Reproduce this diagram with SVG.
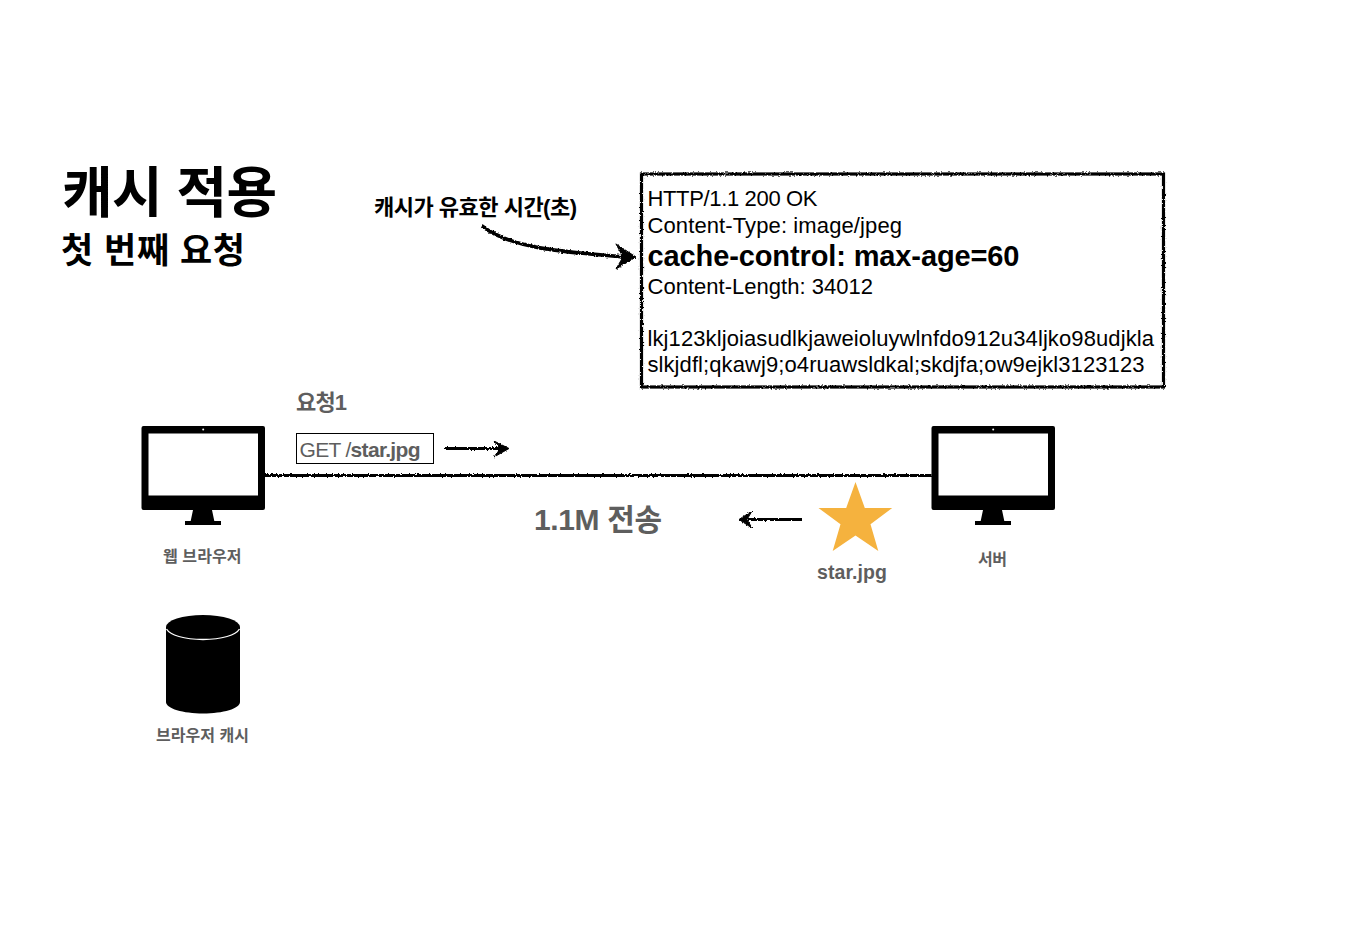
<svg xmlns="http://www.w3.org/2000/svg" width="1350" height="952" viewBox="0 0 1350 952">
<style>
text{font-family:"Liberation Sans","Noto Sans CJK KR",sans-serif;white-space:pre}
.k{fill:#000}
.g{fill:#5e5e5e}
.b{font-weight:700}
.h{font-size:22px}
.rough{fill:none;stroke:#000;filter:url(#rough)}
.head{fill:#000;stroke:#000;stroke-width:1;filter:url(#rough)}
</style>
<defs>
<filter id="rough" x="0" y="0" width="1350" height="952" filterUnits="userSpaceOnUse" primitiveUnits="userSpaceOnUse">
<feTurbulence type="fractalNoise" baseFrequency="0.55" numOctaves="2" seed="4"/>
<feDisplacementMap in="SourceGraphic" scale="3" xChannelSelector="R" yChannelSelector="G"/>
</filter>
<g id="monitor">
<path d="M2 0H121.500a2 2 0 0 1 2 2V82a2 2 0 0 1-2 2H2a2 2 0 0 1-2-2V2a2 2 0 0 1 2-2ZM7 7.500V69.500H116.500V7.500Z" fill="#000" fill-rule="evenodd"/>
<path d="M51.500 84H70.500L72.800 95H79.500V99H43.500V95H49.200Z" fill="#000"/>
<circle cx="61.700" cy="3.500" r="1" fill="#fff"/>
</g>
</defs>
<g id="title">
<text class="k b" x="62" y="212" font-size="55" textLength="215">캐시 적용</text>
<text class="k b" x="61" y="263" font-size="35" textLength="184">첫 번째 요청</text>
</g>
<g id="note">
<text class="k b" x="374" y="215" font-size="22" textLength="203">캐시가 유효한 시간(초)</text>
</g>
<g id="response">
<rect class="rough" x="641.500" y="174" width="522" height="213" stroke-width="3.200"/>
<text class="k h" x="647.500" y="206" textLength="170">HTTP/1.1 200 OK</text>
<text class="k h" x="647.500" y="233" textLength="254.500">Content-Type: image/jpeg</text>
<text class="k b" x="647.500" y="266" font-size="29" textLength="372">cache-control: max-age=60</text>
<text class="k h" x="647.500" y="294" textLength="225.500">Content-Length: 34012</text>
<text class="k h" x="647.500" y="346" textLength="506.500">lkj123kljoiasudlkjaweioluywlnfdo912u34ljko98udjkla</text>
<text class="k h" x="647.500" y="372" textLength="497">slkjdfl;qkawj9;o4ruawsldkal;skdjfa;ow9ejkl3123123</text>
</g>
<g id="browser">
<use href="#monitor" x="141.500" y="426"/>
<text class="g b" x="163" y="562" font-size="16" textLength="78.500">웹 브라우저</text>
</g>
<g id="server">
<use href="#monitor" x="931.500" y="426"/>
<text class="g b" x="978" y="565" font-size="16" textLength="29">서버</text>
</g>
<g id="cache">
<path d="M166 627V702C166 708.500 183 713.500 203 713.500S240 708.500 240 702V627Z" fill="#000"/>
<ellipse cx="203" cy="627" rx="37" ry="12" fill="#000"/>
<path d="M166.500 629C170 635 184 639.500 203 639.500S236 635 239.500 629" fill="none" stroke="#fff" stroke-width="1.300"/>
<text class="g b" x="156" y="741" font-size="16" textLength="93">브라우저 캐시</text>
</g>
<g id="request">
<text class="g b" x="296" y="410" font-size="22" textLength="51">요청1</text>
<rect x="296.500" y="433.500" width="137" height="30" fill="#fff" stroke="#000" stroke-width="1"/>
<text class="g" x="299.500" y="457" font-size="21" textLength="121">GET /<tspan class="b">star.jpg</tspan></text>
</g>
<g id="transfer">
<text class="g b" x="534" y="530" font-size="30" textLength="128">1.1M 전송</text>
</g>
<g id="star">
<path d="M855.500 482L864.800 508H892.200L870.500 524.300L878.300 551L855.500 535.500L832.700 551L840.500 524.300L818.500 508H846.200Z" fill="#f5b23e"/>
<text class="g b" x="817" y="579" font-size="19.500" textLength="70">star.jpg</text>
</g>
<g id="connectors">
<path class="rough" d="M265 475.500H931.500" stroke-width="2.800"/>
<path class="rough" d="M445 448.500H500" stroke-width="2.800"/>
<path class="head" d="M494 441L509 448.500L494 457L500 448.500Z"/>
<path class="rough" d="M802 519.500H748" stroke-width="2.800"/>
<path class="head" d="M752 511L739 519.500L752 528L747 519.500Z"/>
<path class="rough" d="M482 226C510 248 560 252 626 257" stroke-width="3.600"/>
<path class="head" d="M616 244L636 257L616 269L623 257Z"/>
</g>
</svg>
